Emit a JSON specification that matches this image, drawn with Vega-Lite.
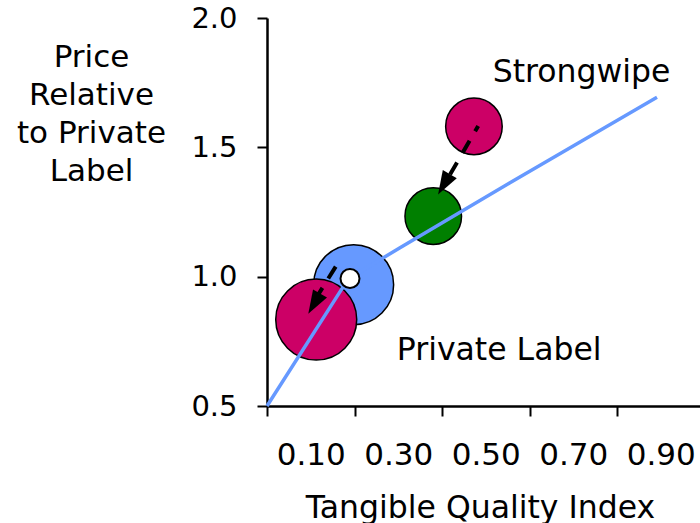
{
  "$schema": "https://vega.github.io/schema/vega-lite/v6.json",
  "width": 433,
  "height": 388,
  "autosize": "none",
  "padding": {"left": 267, "top": 18, "right": 0, "bottom": 117},
  "background": "white",
  "config": {
    "view": {"stroke": null},
    "font": "DejaVu Sans",
    "axis": {"grid": false, "domainColor": "black", "tickColor": "black", "labelColor": "black", "titleColor": "black"}
  },
  "datasets": {
    "bubbles": [
      {"brand": "Private Label", "x": 0.198, "y": 0.969, "share": 40},
      {"brand": "Private Label moved", "x": 0.1125, "y": 0.834, "share": 41},
      {"brand": "Strongwipe moved", "x": 0.380, "y": 1.234, "share": 20},
      {"brand": "Strongwipe", "x": 0.473, "y": 1.581, "share": 20}
    ],
    "reference": [
      {"brand": "Private Label start", "x": 0.1897, "y": 0.993}
    ],
    "curve": [
      {"x": 0, "y": 0.5},
      {"x": 0.1707, "y": 0.952},
      {"x": 0.1897, "y": 0.995},
      {"x": 0.304, "y": 1.112},
      {"x": 0.5554, "y": 1.363},
      {"x": 0.8914, "y": 1.694}
    ],
    "arrows": [
      {"arrow": "Strongwipe", "x": 0.4827, "y": 1.5826},
      {"arrow": "Strongwipe", "x": 0.4183, "y": 1.395},
      {"arrow": "Private Label", "x": 0.160, "y": 1.0465},
      {"arrow": "Private Label", "x": 0.1097, "y": 0.9109}
    ],
    "heads": [
      {"arrow": "Strongwipe", "x": 0.3910, "y": 1.3178},
      {"arrow": "Private Label", "x": 0.0944, "y": 0.8566}
    ],
    "labels": [
      {"label": "Strongwipe", "x": 0.719, "y": 1.751},
      {"label": "Private Label", "x": 0.5307, "y": 0.678}
    ]
  },
  "layer": [
    {
      "data": {"name": "bubbles"},
      "mark": {"type": "point", "filled": true, "opacity": 1, "stroke": "black", "strokeWidth": 1.5, "shape": "circle"},
      "encoding": {
        "x": {
          "field": "x", "type": "quantitative",
          "scale": {"domain": [0, 0.9897], "nice": false, "zero": false},
          "axis": {
            "values": [0, 0.2, 0.4, 0.6, 0.8],
            "labelExpr": "format(datum.value + 0.1, '.2f')",
            "labelOffset": 43.75,
            "labelFlush": false,
            "labelOverlap": false,
            "tickSize": 10,
            "tickWidth": 2,
            "domainWidth": 2.5,
            "labelPadding": 24,
            "labelFontSize": 31,
            "title": "Tangible Quality Index",
            "titleFontSize": 31.5,
            "titleFontWeight": "normal",
            "titleBaseline": "alphabetic",
            "titleAlign": "center",
            "titleX": 213,
            "titleY": 111
          }
        },
        "y": {
          "field": "y", "type": "quantitative",
          "scale": {"domain": [0.5, 2.0], "nice": false, "zero": false},
          "axis": {
            "values": [0.5, 1.0, 1.5, 2.0],
            "format": ".1f",
            "tickSize": 10,
            "tickWidth": 2,
            "domainWidth": 2.5,
            "labelPadding": 20,
            "labelFontSize": 29,
            "labelOverlap": false,
            "labelFlush": false,
            "title": ["Price", "Relative", "to Private", "Label"],
            "titleAngle": 0,
            "titleAlign": "center",
            "titleBaseline": "top",
            "titleFontSize": 31,
            "titleFontWeight": "normal",
            "titleLineHeight": 38.3,
            "titleX": -176,
            "titleY": 24
          }
        },
        "color": {
          "field": "brand", "type": "nominal", "legend": null,
          "scale": {
            "domain": ["Private Label", "Private Label moved", "Strongwipe moved", "Strongwipe"],
            "range": ["#6699FF", "#CC0066", "#007F00", "#CC0066"]
          }
        },
        "size": {
          "field": "share", "type": "quantitative", "legend": null,
          "scale": {"type": "linear", "domain": [0, 100], "range": [0, 16000], "zero": true}
        }
      }
    },
    {
      "data": {"name": "curve"},
      "mark": {"type": "line", "color": "#6699FF", "strokeWidth": 3.5, "interpolate": "linear", "strokeJoin": "round"},
      "encoding": {
        "x": {"field": "x", "type": "quantitative"},
        "y": {"field": "y", "type": "quantitative"}
      }
    },
    {
      "data": {"name": "reference"},
      "mark": {"type": "point", "filled": true, "color": "white", "opacity": 1, "stroke": "black", "strokeWidth": 2, "shape": "circle", "size": 361},
      "encoding": {
        "x": {"field": "x", "type": "quantitative"},
        "y": {"field": "y", "type": "quantitative"}
      }
    },
    {
      "data": {"name": "arrows"},
      "mark": {"type": "line", "color": "black", "strokeWidth": 4, "strokeDash": [14, 11], "strokeCap": "butt"},
      "encoding": {
        "x": {"field": "x", "type": "quantitative"},
        "y": {"field": "y", "type": "quantitative"},
        "detail": {"field": "arrow", "type": "nominal"}
      }
    },
    {
      "data": {"name": "heads"},
      "mark": {"type": "point", "filled": true, "color": "black", "opacity": 1, "shape": "M0,0L0.55,1.6L-0.55,1.6Z", "size": 860, "angle": 210},
      "encoding": {
        "x": {"field": "x", "type": "quantitative"},
        "y": {"field": "y", "type": "quantitative"}
      }
    },
    {
      "data": {"name": "labels"},
      "mark": {"type": "text", "fontSize": 31.5, "align": "center", "baseline": "alphabetic", "color": "black"},
      "encoding": {
        "x": {"field": "x", "type": "quantitative"},
        "y": {"field": "y", "type": "quantitative"},
        "text": {"field": "label", "type": "nominal"}
      }
    },
    {
      "mark": {"type": "rule", "color": "black", "strokeWidth": 2.5},
      "encoding": {"y": {"datum": 2.0}}
    }
  ]
}
